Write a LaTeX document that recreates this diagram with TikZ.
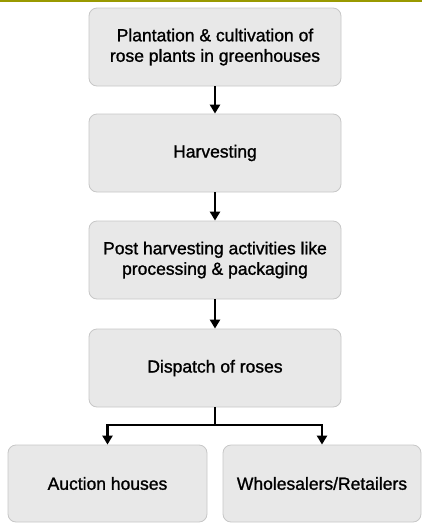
\documentclass[tikz,border=0pt]{standalone}
\usepackage{fontspec}
\setmainfont[FakeBold=1.2]{Liberation Sans}
\usetikzlibrary{arrows.meta,positioning}
\begin{document}
\begin{tikzpicture}[x=1pt,y=-1pt,
  box/.style={draw=black!22, fill=black!9, rounded corners=8pt, line width=0.8pt,
    minimum width=252pt, minimum height=78pt, align=center, inner sep=2pt,
    font=\fontsize{17.5}{20.5}\selectfont},
  conn/.style={line width=2.5pt, -{Triangle[length=9pt,width=10pt]}}]
\useasboundingbox (0,0) rectangle (422,528);
\fill[fill={rgb,255:red,153;green,153;blue,0}] (0,0) rectangle (422,2.2);
\node[box] (b1) at (215,47) {Plantation \& cultivation of\\rose plants in greenhouses};
\node[box] (b2) at (215,153) {Harvesting};
\node[box] (b3) at (215,260) {Post harvesting activities like\\processing \& packaging};
\node[box] (b4) at (215,368) {Dispatch of roses};
\node[box, minimum width=199pt, minimum height=77pt] (b5) at (107.5,483.5) {Auction houses};
\node[box, minimum width=198pt, minimum height=77pt] (b6) at (322,483.5) {Wholesalers/Retailers};
\draw[conn] (b1) -- (b2);
\draw[conn] (b2) -- (b3);
\draw[conn] (b3) -- (b4);
\coordinate (j) at (215,425);
\draw[line width=2.5pt] (b4.south) -- (j);
\draw[conn] (j) -| (b5.north);
\draw[conn] (j) -| (b6.north);
\end{tikzpicture}
\end{document}
